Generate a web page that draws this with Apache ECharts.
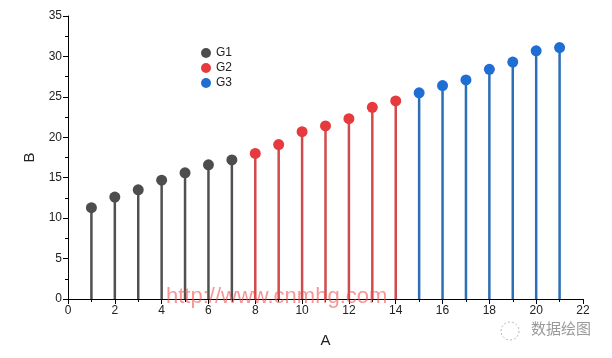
<!DOCTYPE html>
<html><head><meta charset="utf-8">
<script src="https://cdn.jsdelivr.net/npm/echarts@6/dist/echarts.min.js"></script>
<style>html,body{margin:0;padding:0;background:#fff}#c{width:612px;height:358px}</style>
</head><body><div id="c"></div>
<script>
const g1X = [1, 2, 3, 4, 5, 6, 7];
const g1Y = [11.3, 12.6, 13.5, 14.7, 15.6, 16.6, 17.2];
const g2X = [8, 9, 10, 11, 12, 13, 14];
const g2Y = [18.0, 19.1, 20.7, 21.4, 22.3, 23.7, 24.5];
const g3X = [15, 16, 17, 18, 19, 20, 21];
const g3Y = [25.5, 26.4, 27.1, 28.4, 29.3, 30.7, 31.1];
const groupNames = ['G1', 'G2', 'G3'];
const dotColors = ['#4d4d4d', '#e63a3f', '#1f6ed4'];
const stemColors = ['#505050', '#d04a4e', '#2b6fb6'];

const groups = [[g1X, g1Y], [g2X, g2Y], [g3X, g3Y]];
const series = [];
groups.forEach((g, i) => {
  const data = g[0].map((x, k) => [x, g[1][k]]);
  series.push({
    name: groupNames[i], type: 'custom', data: data, z: 2,
    itemStyle: {color: dotColors[i]},
    renderItem: function (params, api) {
      const top = api.coord([api.value(0), api.value(1)]);
      const bot = api.coord([api.value(0), 0]);
      return {type: 'line', shape: {x1: top[0], y1: top[1], x2: bot[0], y2: bot[1]},
        style: {stroke: stemColors[i], lineWidth: 2.5}};
    }
  });
  series.push({
    name: groupNames[i], type: 'scatter', data: data, z: 3,
    symbol: 'circle', symbolSize: 11,
    itemStyle: {color: dotColors[i], opacity: 1}
  });
});

const chart = echarts.init(document.getElementById('c'));
chart.setOption({
  animation: false,
  textStyle: {fontFamily: 'Liberation Sans'},
  grid: {left: 68, right: 29, top: 16, bottom: 59},
  legend: {
    data: groupNames.map((n, i) => ({name: n, icon: 'circle', itemStyle: {color: dotColors[i]}})),
    orient: 'vertical', left: 196, top: 41, itemWidth: 10, itemHeight: 10, itemGap: 1,
    textStyle: {fontSize: 12, color: '#222', fontFamily: 'Liberation Sans', lineHeight: 14}
  },
  xAxis: {
    type: 'value', min: 0, max: 22, interval: 2,
    name: 'A', nameLocation: 'middle', nameGap: 34,
    nameTextStyle: {fontSize: 15, color: '#222'},
    axisLine: {show: true, lineStyle: {color: '#000', width: 1}},
    axisTick: {show: true, length: 5, lineStyle: {color: '#000'}},
    minorTick: {show: true, splitNumber: 2, length: 3, lineStyle: {color: '#000'}},
    splitLine: {show: false},
    axisLabel: {fontSize: 12, color: '#222', margin: 6}
  },
  yAxis: {
    type: 'value', min: 0, max: 35, interval: 5,
    name: 'B', nameLocation: 'middle', nameGap: 30,
    nameTextStyle: {fontSize: 15, color: '#222'},
    axisLine: {show: true, lineStyle: {color: '#000', width: 1}},
    axisTick: {show: true, length: 5, lineStyle: {color: '#000'}},
    minorTick: {show: true, splitNumber: 2, length: 3, lineStyle: {color: '#000'}},
    splitLine: {show: false},
    axisLabel: {fontSize: 12, color: '#222', margin: 6}
  },
  graphic: [
    {type: 'text', left: 166, top: 286, z: 10,
     style: {text: 'http://www.cnmhg.com', fontSize: 22, fill: 'rgba(240,80,80,0.6)', fontFamily: 'Liberation Sans'}},
    {type: 'text', left: 531, top: 321, z: 10,
     style: {text: '数据绘图', fontSize: 15, fill: '#9a9a9a', fontFamily: 'Noto Sans CJK SC'}},
    {type: 'circle', shape: {cx: 510, cy: 331, r: 9}, z: 10,
     style: {fill: 'none', stroke: '#b5b5b5', lineWidth: 1, lineDash: [2, 2]}}
  ],
  series: series
});
</script></body></html>
